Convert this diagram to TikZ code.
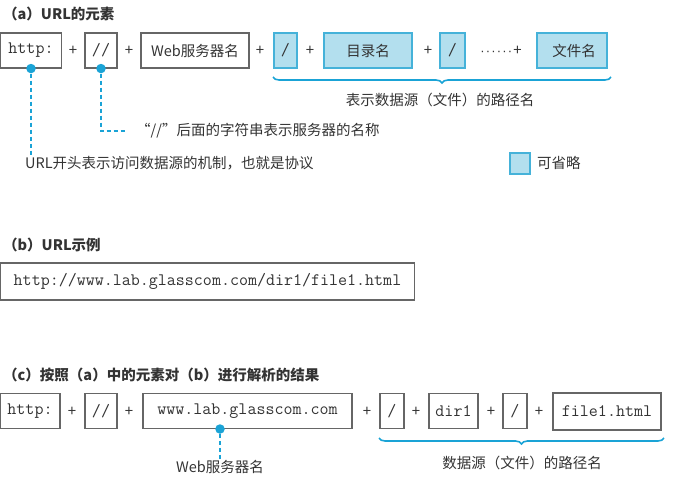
\documentclass[tikz,border=0pt]{standalone}
\usepackage{fontspec}
\setmainfont{Noto Sans CJK SC}
\newfontfamily\latf{Liberation Sans}
\usetikzlibrary{decorations.pathreplacing}
\definecolor{txt}{HTML}{333333}
\definecolor{bord}{HTML}{666666}
\definecolor{cy}{HTML}{1AA3D6}
\definecolor{lfill}{HTML}{B3DFEE}
\definecolor{lbord}{HTML}{45B2D9}
\newcommand{\mydot}{·\kern1.2pt}
\begin{document}
\begin{tikzpicture}[x=1pt,y=-1pt,
  every node/.style={text=txt,inner sep=0pt,font=\fontsize{14.5}{17}\selectfont},
  gbox/.style={draw=bord,line width=1.1pt,minimum height=35pt},
  bbox/.style={draw=lbord,fill=lfill,line width=1.1pt,minimum height=35pt},
  mono/.style={font=\fontsize{17.5}{20}\selectfont\ttfamily},
  plus/.style={font=\fontsize{15}{17}\selectfont},
  ttl/.style={anchor=west,font=\fontsize{14.5}{17}\selectfont\bfseries},
  dot/.style={circle,fill=cy,minimum size=9.5pt},
  dline/.style={draw=cy,line width=1.6pt,dash pattern=on 4pt off 3pt},
  brc/.style={draw=cy,line width=1.6pt,decorate,decoration={brace,mirror,amplitude=6pt}}
]
\useasboundingbox (0,0) rectangle (673,482);

% (a)
\node[ttl] (ta) at (3,14) {（a）URL的元素};
\node[gbox,mono,minimum width=61pt] (httpA) at (31,50.5) {http:};
\node[plus] (pa1) at (73,51) {+};
\node[gbox,mono,minimum width=32pt] (slA) at (101,50.5) {//};
\node[plus] (pa2) at (129,51) {+};
\node[gbox,minimum width=108pt] (webA) at (195,50.5) {Web服务器名};
\node[plus] (pa3) at (260,51) {+};
\node[bbox,mono,minimum width=23pt] (s1A) at (285.5,50.5) {/};
\node[plus] (pa4) at (310,51) {+};
\node[bbox,minimum width=88pt] (dirA) at (368,50.5) {目录名};
\node[plus] (pa5) at (428,51) {+};
\node[bbox,mono,minimum width=25pt] (s2A) at (452.5,50.5) {/};
\node[plus,anchor=east] (pa6) at (522,51) {{\latf\fontsize{13}{15}\selectfont\mydot\mydot\mydot\mydot\mydot\mydot}+};
\node[bbox,minimum width=70pt] (fileA) at (572,50.5) {\hspace*{4pt}文件名};

\coordinate (bA1) at (273,77);
\coordinate (bA2) at (611,77);
\draw[brc] (bA1) -- (bA2);
\node (pathA) at (440,100) {表示数据源（文件）的路径名};

\node[dot] (dA1) at (httpA.south) {};
\node[dot] (dA2) at (slA.south) {};
\node[anchor=west] (lA1) at (25,163) {URL开头表示访问数据源的机制，也就是协议};
\node[anchor=west] (lA2) at (136,131) {“//”后面的字符串表示服务器的名称};
\draw[dline] (dA1) -- (dA1 |- lA1.north);
\draw[dline] (dA2) |- ([xshift=-10pt]lA2.west);

\node[bbox,minimum width=20pt,minimum height=21pt] (leg) at (520,163.5) {};
\node[anchor=west] (legt) at (537,163) {可省略};

% (b)
\node[ttl] (tb) at (3,245) {（b）URL示例};
\node[gbox,mono,minimum width=414pt,minimum height=37pt] (urlB) at (207.5,281.5) {http://www.lab.glasscom.com/dir1/file1.html};

% (c)
\node[ttl] (tc) at (3,375) {（c）按照（a）中的元素对（b）进行解析的结果};
\node[gbox,mono,minimum width=60pt] (httpC) at (30,411) {http:};
\node[plus] (pc1) at (72,412) {+};
\node[gbox,mono,minimum width=32pt] (slC) at (101,411) {//};
\node[plus] (pc2) at (129,412) {+};
\node[gbox,mono,minimum width=209pt] (wwwC) at (247.5,411) {www.lab.glasscom.com};
\node[plus] (pc3) at (367,412) {+};
\node[gbox,mono,minimum width=24pt] (s1C) at (392,411) {/};
\node[plus] (pc4) at (416,412) {+};
\node[gbox,mono,minimum width=49pt] (dirC) at (453.5,411) {dir1};
\node[plus] (pc5) at (491,412) {+};
\node[gbox,mono,minimum width=24pt] (s2C) at (515,411) {/};
\node[plus] (pc6) at (539,412) {+};
\node[gbox,mono,minimum width=108pt,minimum height=37pt] (fileC) at (607,411.5) {file1.html};

\node[dot] (dC) at (220,429) {};
\node (lC) at (220,467) {Web服务器名};
\draw[dline] (dC) -- (lC.north);

\coordinate (bC1) at (379,438);
\coordinate (bC2) at (664,438);
\draw[brc] (bC1) -- (bC2);
\node (pathC) at (522,463) {数据源（文件）的路径名};
\end{tikzpicture}
\end{document}
